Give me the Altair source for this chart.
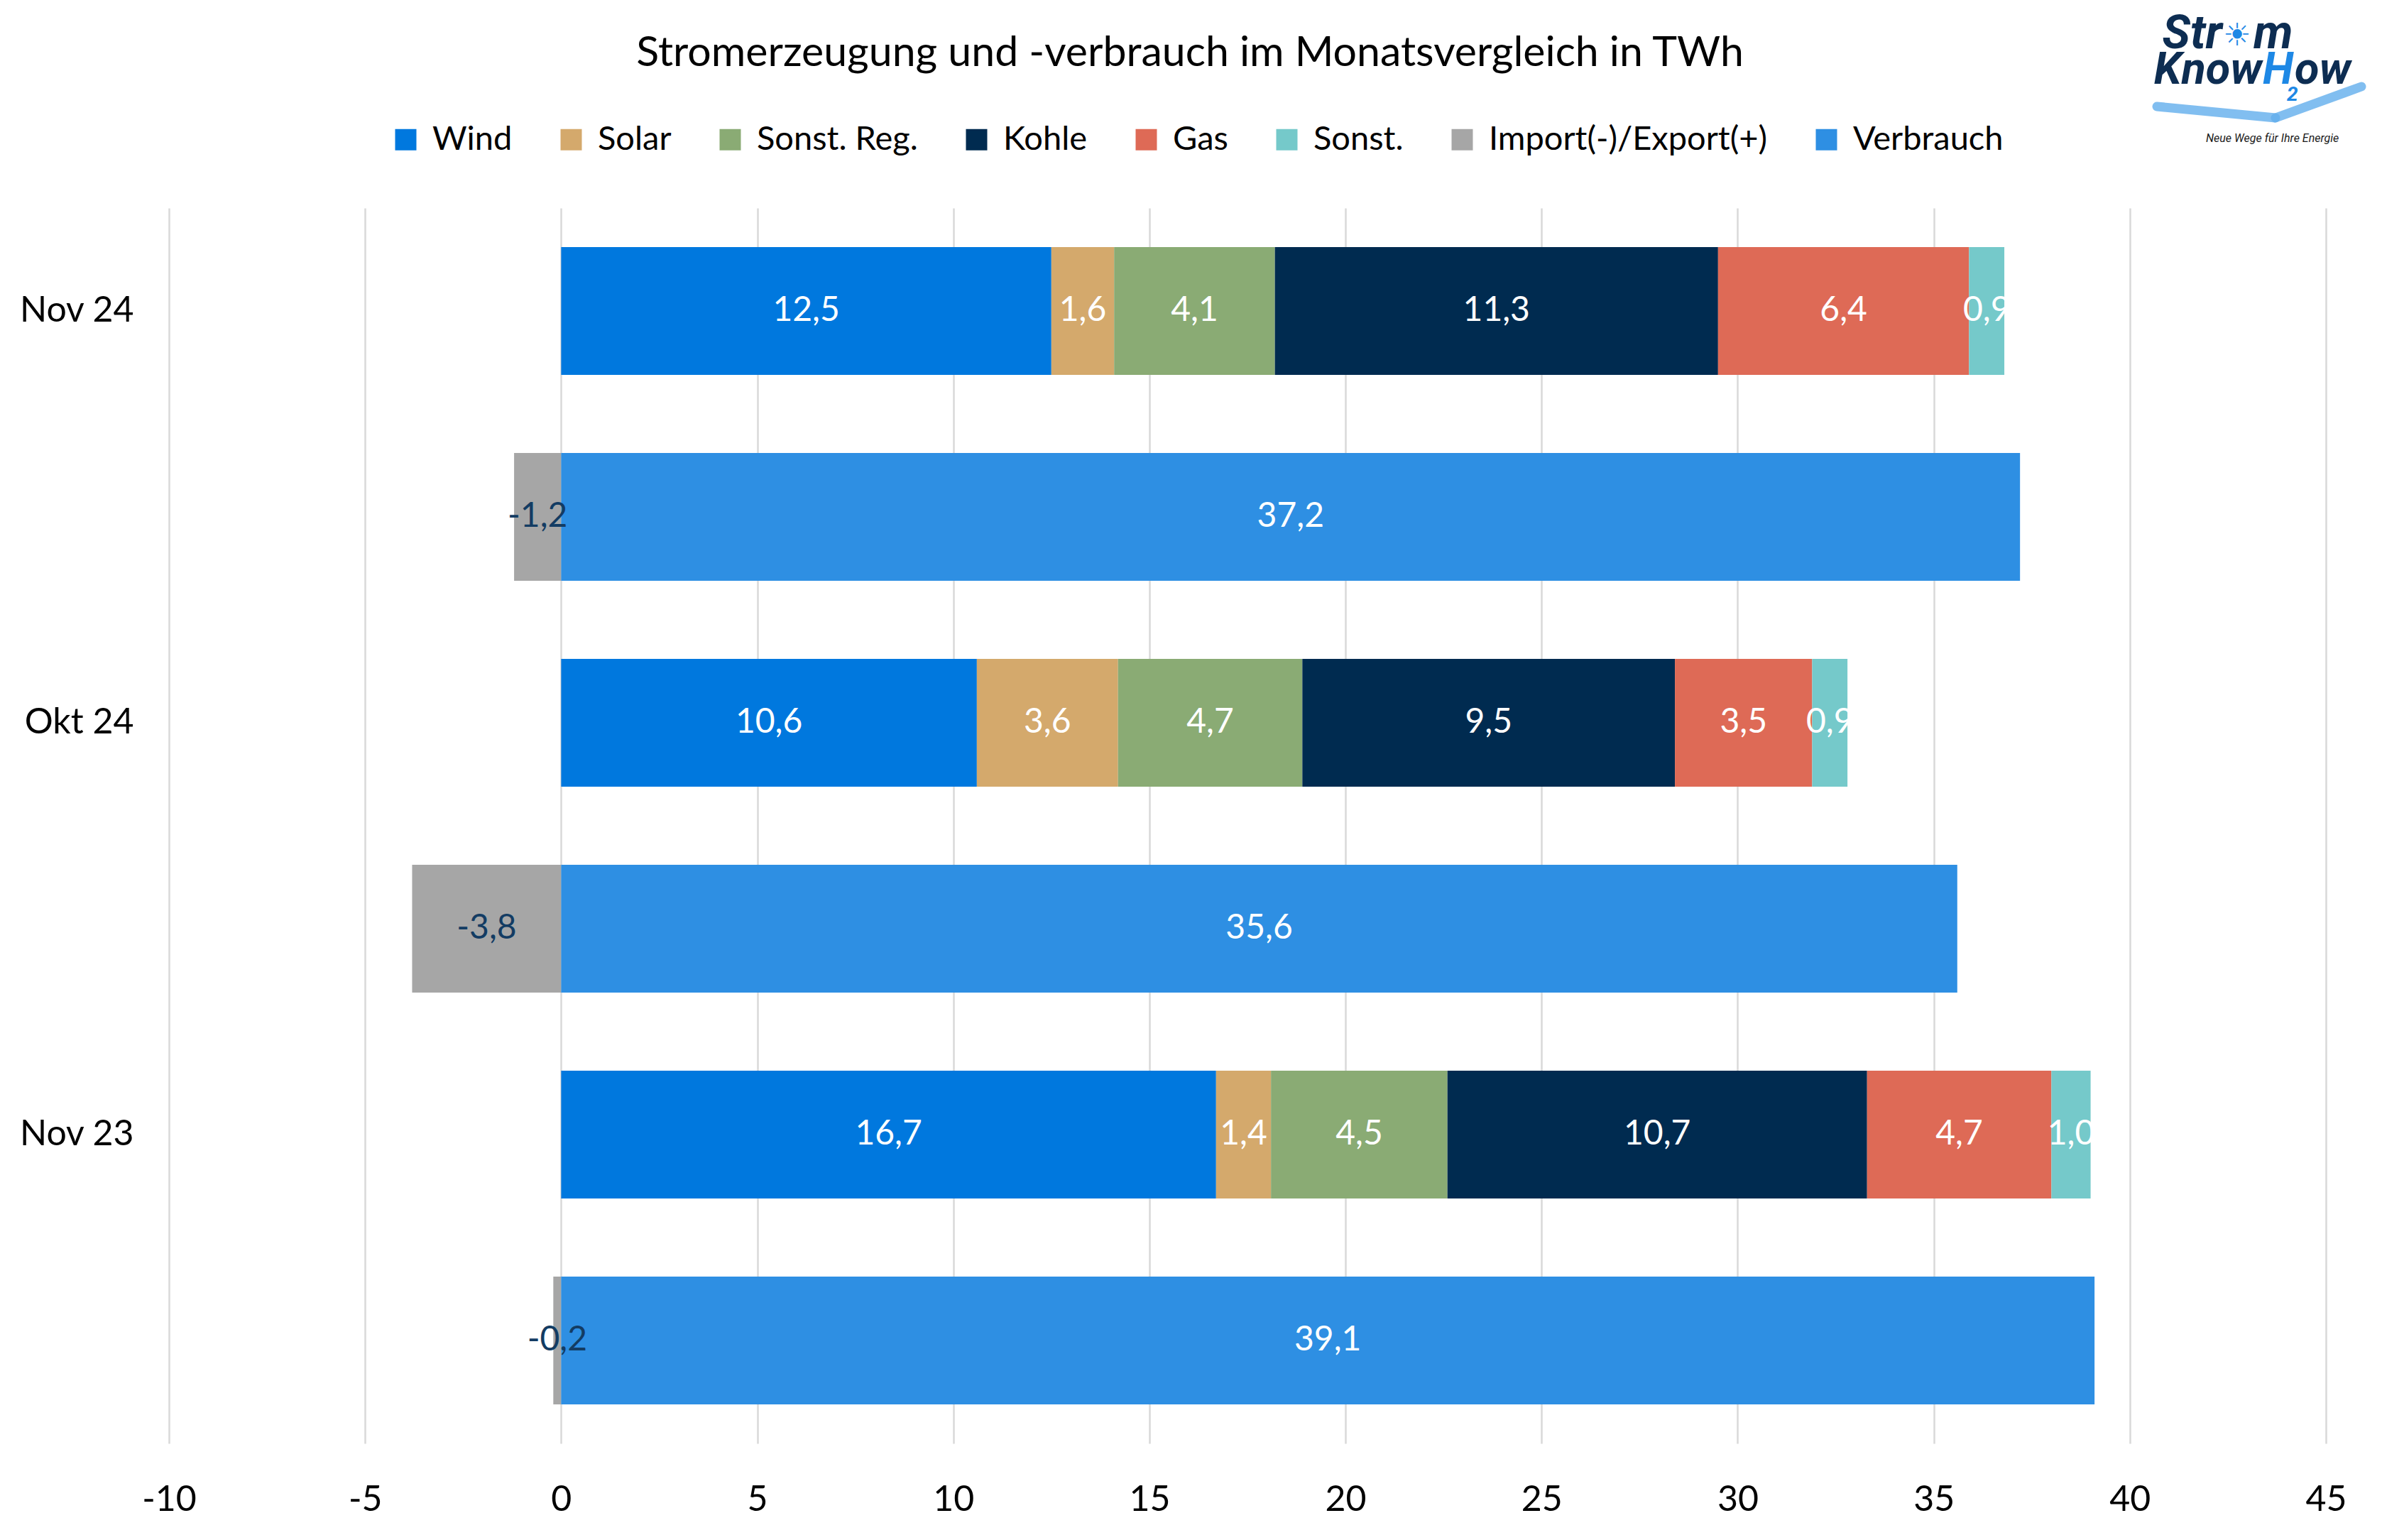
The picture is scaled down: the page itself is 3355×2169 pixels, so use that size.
import altair as alt
import pandas as pd

# ---------------- data ----------------
months = ["Nov 24", "Okt 24", "Nov 23"]
gen_series = ["Wind", "Solar", "Sonst. Reg.", "Kohle", "Gas", "Sonst."]
wind = [12.5, 10.6, 16.7]
solar = [1.6, 3.6, 1.4]
sonst_reg = [4.1, 4.7, 4.5]
kohle = [11.3, 9.5, 10.7]
gas = [6.4, 3.5, 4.7]
sonst = [0.9, 0.9, 1.0]
import_export = [-1.2, -3.8, -0.2]
verbrauch = [37.2, 35.6, 39.1]

title_text = "Stromerzeugung und -verbrauch im Monatsvergleich in TWh"
series_order = gen_series + ["Import(-)/Export(+)", "Verbrauch"]
colors = ["#0078DE", "#D4A96C", "#8AAB74", "#002B50", "#DE6A56", "#75C9CA", "#A6A6A6", "#2E8FE3"]
x_ticks = [-10, -5, 0, 5, 10, 15, 20, 25, 30, 35, 40, 45]

gen_values = [wind, solar, sonst_reg, kohle, gas, sonst]

rows = []
row_order = []
for i, m in enumerate(months):
    row_order += [m, "_" + m]
    for j, (s, vals) in enumerate(zip(gen_series, gen_values)):
        rows.append({"row": m, "series": s, "value": vals[i], "idx": j})
    rows.append({"row": "_" + m, "series": "Import(-)/Export(+)", "value": import_export[i], "idx": 6})
    rows.append({"row": "_" + m, "series": "Verbrauch", "value": verbrauch[i], "idx": 7})
df = pd.DataFrame(rows)
df["label"] = df["value"].map(lambda v: f"{v:.1f}".replace(".", ","))

FONT = "Lato"
PL, PT = 230, 285          # plot origin offset (inside the 8px page margin)
W, H = 3038, 1740

base = alt.Chart(df)

y_enc = alt.Y(
    "row:N", sort=row_order, title=None,
    scale=alt.Scale(paddingInner=0.38, paddingOuter=0.19),
    axis=alt.Axis(
        labelExpr="slice(datum.value,0,1)=='_' ? '' : datum.value",
        labelFontSize=50, labelFont=FONT, labelColor="#000000",
        labelPadding=50, ticks=False, domain=False, grid=False, labelAlign="right",
    ),
)

bars = base.mark_bar().encode(
    x=alt.X(
        "value:Q", stack="zero", title=None,
        scale=alt.Scale(domain=[-10, 45], nice=False, zero=False),
        axis=alt.Axis(
            values=x_ticks, labelExpr="'' + datum.value", labelFlush=False,
            labelFontSize=50, labelFont=FONT, labelColor="#000000", labelPadding=54,
            ticks=False, domain=False, grid=True, gridColor="#D9D9D9", gridWidth=2.5,
        ),
    ),
    y=y_enc,
    color=alt.Color(
        "series:N",
        scale=alt.Scale(domain=series_order, range=colors),
        legend=alt.Legend(
            title=None, orient="none", direction="horizontal", columns=8,
            legendX=310, legendY=-120,
            symbolType="square", symbolSize=900, symbolStrokeWidth=0,
            labelFontSize=47, labelFont=FONT, labelColor="#000000", labelLimit=800,
            labelOffset=14, columnPadding=59,
        ),
    ),
    order=alt.Order("idx:Q"),
)

labels = (
    base.transform_stack(
        stack="value", as_=["x0", "x1"], groupby=["row"], sort=[alt.SortField("idx")]
    )
    .transform_calculate(mid="(datum.x0 + datum.x1) / 2")
    .mark_text(fontSize=48, font=FONT, baseline="middle", align="center")
    .encode(
        x=alt.X("mid:Q"),
        y=alt.Y("row:N", sort=row_order),
        text="label:N",
        color=alt.condition(
            alt.datum.series == "Import(-)/Export(+)",
            alt.value("#133C63"),
            alt.value("#FFFFFF"),
        ),
    )
)

# ---------------- title + logo (page coordinates converted to plot coordinates) ----------------
one = alt.Data(values=[{"a": 1}])
NAVY = "#0D2D52"
BLUE = "#1E88E5"


def txt(t, X, Y, size, color, style="italic", weight="bold", font="Roboto", align="left"):
    return alt.Chart(one).mark_text(
        text=t, fontSize=size, font=font, fontStyle=style, fontWeight=weight,
        color=color, align=align, baseline="alphabetic",
    ).encode(x=alt.value(X - 8 - PL), y=alt.value(Y - 8 - PT))


title = txt(title_text, 1676, 93, 59, "#000000", style="normal", weight="normal", font=FONT, align="center")

logo = [
    txt("Str", 3130, 68, 66, NAVY, align="right"),
    txt("☀", 3151, 64, 44, BLUE, style="normal", weight="normal", font="DejaVu Sans", align="center"),
    txt("m", 3174, 68, 66, NAVY),
    txt("Know", 3186, 118, 63, NAVY, align="right"),
    txt("H", 3187, 118, 63, BLUE),
    txt("2", 3221, 142, 28, BLUE),
    txt("ow", 3232, 118, 63, NAVY),
    txt("Neue Wege für Ihre Energie", 3107, 200, 16, "#1A1A1A", weight="normal"),
]
wave = [
    alt.Chart(one).mark_rule(color="#62AEEC", strokeWidth=13, strokeCap="round", opacity=0.8).encode(
        x=alt.value(3038 - 8 - PL), x2=alt.value(3205 - 8 - PL),
        y=alt.value(150 - 8 - PT), y2=alt.value(166 - 8 - PT)),
    alt.Chart(one).mark_rule(color="#62AEEC", strokeWidth=13, strokeCap="round", opacity=0.8).encode(
        x=alt.value(3205 - 8 - PL), x2=alt.value(3326 - 8 - PL),
        y=alt.value(166 - 8 - PT), y2=alt.value(122 - 8 - PT)),
]

chart = (
    alt.layer(bars, labels, title, *wave, *logo)
    .properties(
        width=W, height=H,
        autosize=alt.AutoSizeParams(type="none"),
        padding={"left": PL, "top": PT, "right": 3355 - 16 - PL - W, "bottom": 2169 - 16 - PT - H},
        background="#FFFFFF",
    )
    .configure_view(stroke=None)
)

chart.save("out.html", embed_options={"renderer": "svg", "actions": False})
